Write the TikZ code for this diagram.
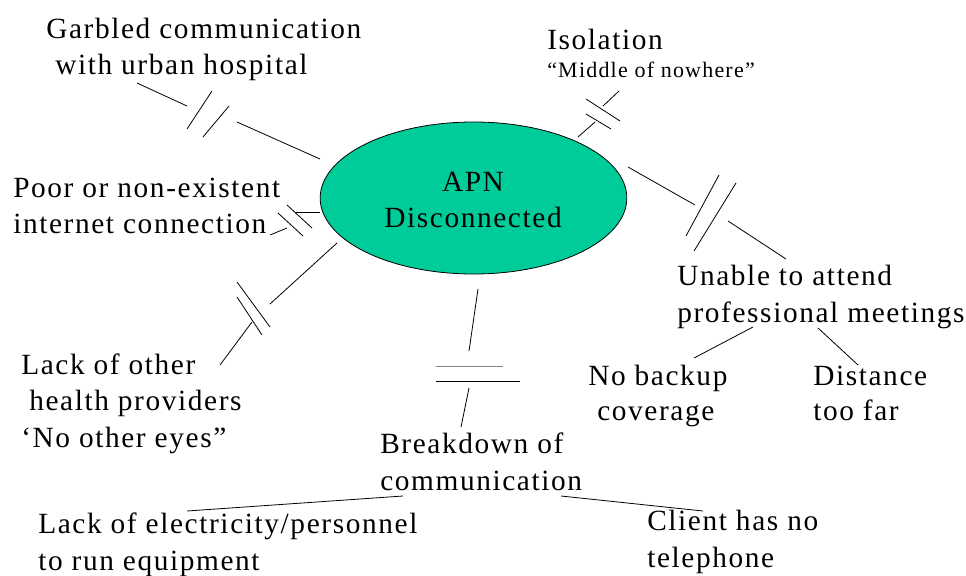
\documentclass[tikz,border=0pt]{standalone}
\usepackage{fontspec}
\setmainfont{Liberation Serif}[LetterSpace=5.5]
\usetikzlibrary{shapes.geometric}
\definecolor{apngreen}{RGB}{0,204,153}
\definecolor{bargray}{RGB}{128,128,128}
\begin{document}
\begin{tikzpicture}[x=0.75pt,y=-0.75pt,
  lbl/.style={anchor=base west,inner sep=0pt,font=\fontsize{22}{26}\selectfont},
  lblc/.style={anchor=base,inner sep=0pt,font=\fontsize{22}{26}\selectfont},
  small/.style={anchor=base west,inner sep=0pt,font=\fontsize{16.5}{20}\selectfont},
  link/.style={line width=0.6pt,black},
  graylink/.style={line width=0.6pt,bargray}]
\useasboundingbox (0,0) rectangle (966,575);

% central ellipse
\node[ellipse,draw=black,fill=apngreen,line width=0.6pt,minimum width=230pt,minimum height=114pt,inner sep=0pt] (apn) at (473.5,198) {};
\node[lblc] (apn1) at (473,191) {APN};
\node[lblc] (apn2) at (473,227) {Disconnected};

% labels
\node[lbl] (garb1) at (46,38) {Garbled communication};
\node[lbl] (garb2) at (55,74) {with urban hospital};
\node[lbl] (iso1) at (547,49) {Isolation};
\node[small] (iso2) at (547,77) {“Middle of nowhere”};
\node[lbl] (poor1) at (13,197) {Poor or non-existent};
\node[lbl] (poor2) at (13,233) {internet connection};
\node[lbl] (un1) at (677,285) {Unable to attend};
\node[lbl] (un2) at (677,322) {professional meetings};
\node[lbl] (nb1) at (588,385) {No backup};
\node[lbl] (nb2) at (597,420) {coverage};
\node[lbl] (di1) at (813,385) {Distance};
\node[lbl] (di2) at (813,420) {too far};
\node[lbl] (lo1) at (21,374) {Lack of other};
\node[lbl] (lo2) at (29,410) {health providers};
\node[lbl] (lo3) at (21,447) {‘No other eyes”};
\node[lbl] (br1) at (380,453) {Breakdown of};
\node[lbl] (br2) at (380,490) {communication};
\node[lbl] (le1) at (38,533) {Lack of electricity/personnel};
\node[lbl] (le2) at (38,570) {to run equipment};
\node[lbl] (cl1) at (647,530) {Client has no};
\node[lbl] (cl2) at (647,567) {telephone};

% connector points
% Garbled
\coordinate (g1) at (137,83);  \coordinate (g2) at (187,106);
\coordinate (g3) at (187,129); \coordinate (g4) at (212,91);
\coordinate (g5) at (203,137); \coordinate (g6) at (229,106);
\coordinate (g7) at (237,122); \coordinate (g8) at (320,159);
% Internet
\coordinate (i1) at (320,212); \coordinate (i2) at (295,212);
\coordinate (i3) at (287,205); \coordinate (i4) at (312,228);
\coordinate (i5) at (278,213); \coordinate (i6) at (303,236);
\coordinate (i7) at (287,228); \coordinate (i8) at (270,235);
% Lack of other
\coordinate (o1) at (337,243); \coordinate (o2) at (270,304);
\coordinate (o3) at (237,282); \coordinate (o4) at (270,327);
\coordinate (o5) at (237,297); \coordinate (o6) at (262,335);
\coordinate (o7) at (252,322); \coordinate (o8) at (220,365);
% Isolation
\coordinate (s1) at (578,137); \coordinate (s2) at (595,122);
\coordinate (s3) at (586,99);  \coordinate (s4) at (620,121);
\coordinate (s5) at (586,114); \coordinate (s6) at (611,129);
\coordinate (s7) at (603,106); \coordinate (s8) at (619,91);
% Unable
\coordinate (u1) at (628,167); \coordinate (u2) at (695,205);
\coordinate (u3) at (719,175); \coordinate (u4) at (686,236);
\coordinate (u5) at (736,183); \coordinate (u6) at (694,251);
\coordinate (u7) at (728,221); \coordinate (u8) at (786,259);
% Breakdown
\coordinate (b1) at (478,289); \coordinate (b2) at (469,351);
\coordinate (b3) at (436,366); \coordinate (b4) at (503,366);
\coordinate (b5) at (436,381); \coordinate (b6) at (520,381);
\coordinate (b7) at (469,388); \coordinate (b8) at (461,427);
% sub branches
\coordinate (n1) at (753,327); \coordinate (n2) at (694,358);
\coordinate (d1) at (818,328); \coordinate (d2) at (858,365);
\coordinate (e1) at (403,496); \coordinate (e2) at (187,511);
\coordinate (c1) at (561,496); \coordinate (c2) at (703,511);

% connectors
\draw[link] (g1) -- (g2); \draw[link] (g3) -- (g4); \draw[link] (g5) -- (g6); \draw[link] (g7) -- (g8);
\draw[link] (i1) -- (i2); \draw[link] (i3) -- (i4); \draw[link] (i5) -- (i6); \draw[link] (i7) -- (i8);
\draw[link] (o1) -- (o2); \draw[link] (o3) -- (o4); \draw[link] (o5) -- (o6); \draw[link] (o7) -- (o8);
\draw[link] (s1) -- (s2); \draw[link] (s3) -- (s4); \draw[link] (s5) -- (s6); \draw[link] (s7) -- (s8);
\draw[link] (u1) -- (u2); \draw[link] (u3) -- (u4); \draw[link] (u5) -- (u6); \draw[link] (u7) -- (u8);
\draw[link] (b1) -- (b2); \draw[graylink] (b3) -- (b4); \draw[link] (b5) -- (b6); \draw[link] (b7) -- (b8);
\draw[link] (n1) -- (n2); \draw[link] (d1) -- (d2);
\draw[link] (e1) -- (e2); \draw[link] (c1) -- (c2);
\end{tikzpicture}
\end{document}
